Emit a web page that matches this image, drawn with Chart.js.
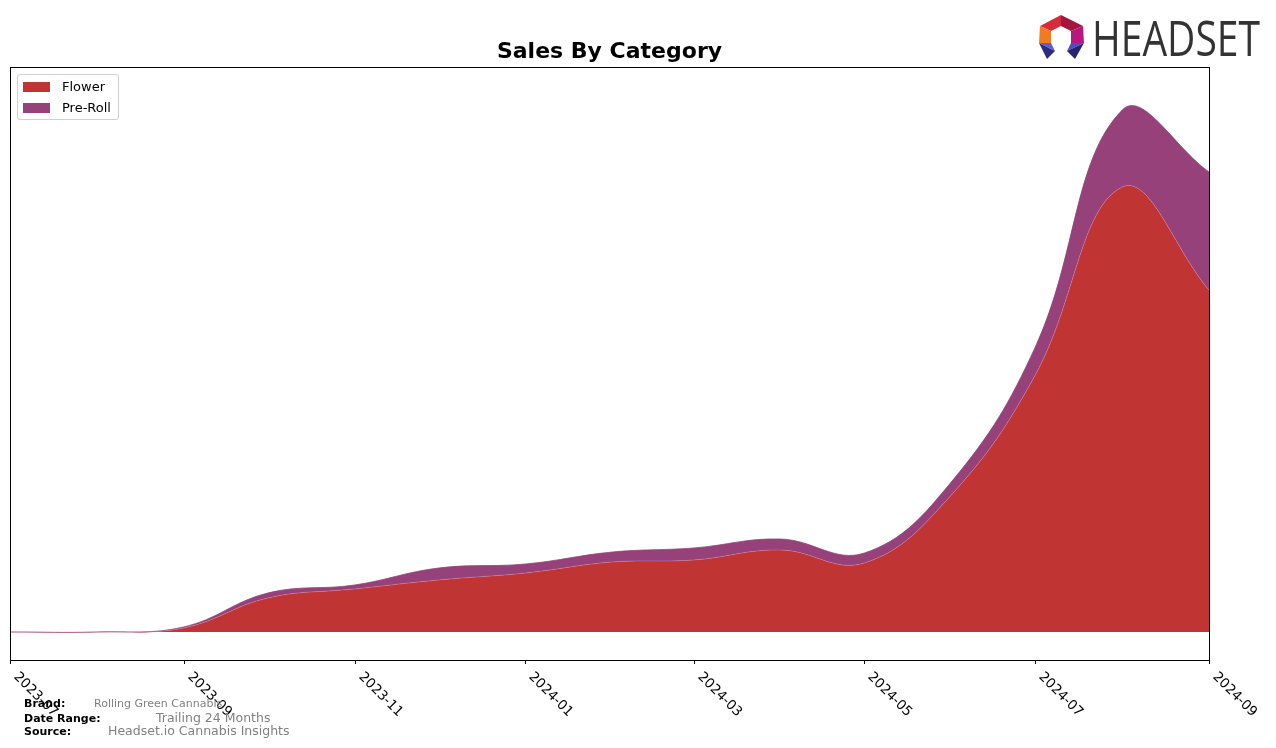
<!DOCTYPE html>
<html>
<head>
<meta charset="utf-8">
<script src="https://cdn.jsdelivr.net/npm/chart.js@4.4.1/dist/chart.umd.min.js"></script>
<style>
    body { margin: 0; background: #ffffff; }
    #wrap { position: relative; width: 1276px; height: 748px; }
    #legend {
        position: absolute; left: 17px; top: 74px; width: 100px; height: 44px;
        border: 1px solid #d0d0d0; border-radius: 3px; background: rgba(255,255,255,0.8);
        font-family: 'DejaVu Sans', sans-serif; font-size: 13px; color: #000;
    }
    .item { position: absolute; left: 5px; height: 20px; line-height: 20px; }
    .swatch { position: absolute; left: 0; top: 5px; width: 27px; height: 10px; }
    .item span { position: absolute; left: 39px; white-space: nowrap; }
    #logo { position: absolute; left: 1030px; top: 8px; }
</style>
</head>
<body>
<div id="wrap">
    <canvas id="salesChart" width="1276" height="748"></canvas>
    <div id="legend"></div>
    <svg id="logo" width="240" height="60" viewBox="1030 8 240 60">
        <polygon points="1061,15 1040,26 1051,31 1061,26" fill="#d62b3b"/>
        <polygon points="1061,15 1083,26 1071,31 1061,26" fill="#a3163f"/>
        <polygon points="1040,26 1039,43 1051,43 1051,31" fill="#f27b22"/>
        <polygon points="1083,26 1084,43 1071,43 1071,31" fill="#b8177f"/>
        <polygon points="1039,43 1051,43 1055,51" fill="#5f5dd3"/>
        <polygon points="1039,43 1055,51 1047,59" fill="#2c2b7e"/>
        <polygon points="1084,43 1071,43 1067,51" fill="#4d4cc6"/>
        <polygon points="1084,43 1067,51 1075,59" fill="#25246e"/>
        <text x="1092" y="56" font-family="Open Sans, sans-serif" font-size="50" fill="#333333"
              textLength="168" lengthAdjust="spacingAndGlyphs">HEADSET</text>
    </svg>
</div>
<script>
// monthly sales (arbitrary units)
const months = ['2023-07', '2023-08', '2023-09', '2023-10', '2023-11', '2023-12', '2024-01',
    '2024-02', '2024-03', '2024-04', '2024-05', '2024-06', '2024-07', '2024-08', '2024-09'];
const flowerSales = [0, 0, 4, 34, 43, 52, 59, 70, 72, 82, 69, 137, 257, 445, 342];
const preRollSales = [0, 0, 1, 5, 4, 12, 9, 10, 12, 11, 10, 13, 28, 77, 118];
const tickLabels = ['2023-07', '2023-09', '2023-11', '2024-01', '2024-03', '2024-05', '2024-07', '2024-09'];

const footer = [
    { label: 'Brand:', value: 'Rolling Green Cannabis', x: 94, y: 707, size: 11 },
    { label: 'Date Range:', value: 'Trailing 24 Months', x: 156, y: 722, size: 12.5 },
    { label: 'Source:', value: 'Headset.io Cannabis Insights', x: 108, y: 735, size: 12.5 }
];

// days since the first month, so the x axis spaces months like a time axis
function dayOf(m) {
    const p = m.split('-');
    return (Date.UTC(+p[0], +p[1] - 1, 1) - Date.UTC(2023, 6, 1)) / 86400000;
}

const colors = { flower: '#c03434', preroll: '#96417a' };

const data = {
    datasets: [{
        label: 'Flower',
        data: months.map((m, i) => ({ x: dayOf(m), y: flowerSales[i] })),
        backgroundColor: colors.flower,
        borderColor: 'rgba(210,140,170,0.7)',
        borderWidth: 0.6,
        fill: 'origin',
        pointRadius: 0,
        tension: 0.4
    }, {
        label: 'Pre-Roll',
        data: months.map((m, i) => ({ x: dayOf(m), y: preRollSales[i] })),
        backgroundColor: colors.preroll,
        borderColor: colors.preroll,
        borderWidth: 0.8,
        fill: '-1',
        pointRadius: 0,
        tension: 0.4
    }]
};

const framePlugin = {
    id: 'frame',
    afterDraw(chart) {
        const ctx = chart.ctx;
        const a = chart.chartArea;
        const xs = chart.scales.x;
        ctx.save();
        ctx.strokeStyle = '#000';
        ctx.lineWidth = 1;
        ctx.strokeRect(Math.round(a.left) + 0.5, Math.round(a.top) + 0.5,
            Math.round(a.right - a.left), Math.round(a.bottom - a.top));
        ctx.font = '13.5px "DejaVu Sans"';
        ctx.fillStyle = '#000';
        ctx.textBaseline = 'top';
        ctx.textAlign = 'left';
        tickLabels.forEach(t => {
            const px = Math.round(xs.getPixelForValue(dayOf(t))) + 0.5;
            ctx.beginPath();
            ctx.moveTo(px, a.bottom);
            ctx.lineTo(px, a.bottom + 4);
            ctx.stroke();
            ctx.save();
            ctx.translate(px + 10, a.bottom + 10);
            ctx.rotate(Math.PI / 4);
            ctx.fillText(t, 0, 0);
            ctx.restore();
        });
        ctx.textBaseline = 'alphabetic';
        footer.forEach(f => {
            ctx.font = 'bold 11px "DejaVu Sans"';
            ctx.fillStyle = '#000';
            ctx.fillText(f.label, 24, f.y);
            ctx.font = f.size + 'px "DejaVu Sans"';
            ctx.fillStyle = '#808080';
            ctx.fillText(f.value, f.x, f.y);
        });
        ctx.restore();
    }
};

const config = {
    type: 'line',
    data: data,
    options: {
        responsive: false,
        animation: false,
        layout: { padding: { left: 10, right: 67, top: 0, bottom: 88 } },
        scales: {
            x: { type: 'linear', display: false, min: 0, max: dayOf('2024-09') },
            y: { display: false, stacked: true, min: -28, max: 565 }
        },
        plugins: {
            legend: { display: false },
            tooltip: { enabled: false },
            title: {
                display: true,
                text: 'Sales By Category',
                color: '#000',
                font: { family: 'DejaVu Sans', size: 22, weight: 'bold' },
                padding: { top: 39, bottom: 1.6 }
            }
        }
    },
    plugins: [framePlugin]
};

const ctx = document.getElementById('salesChart').getContext('2d');
const chart = new Chart(ctx, config);

// legend box in the top-left corner of the plot
const legend = document.getElementById('legend');
chart.data.datasets.forEach((ds, i) => {
    const item = document.createElement('div');
    item.className = 'item';
    item.style.top = (2 + i * 21) + 'px';
    item.innerHTML = '<div class="swatch" style="background:' + ds.backgroundColor + '"></div><span>' + ds.label + '</span>';
    legend.appendChild(item);
});
</script>
</body>
</html>
